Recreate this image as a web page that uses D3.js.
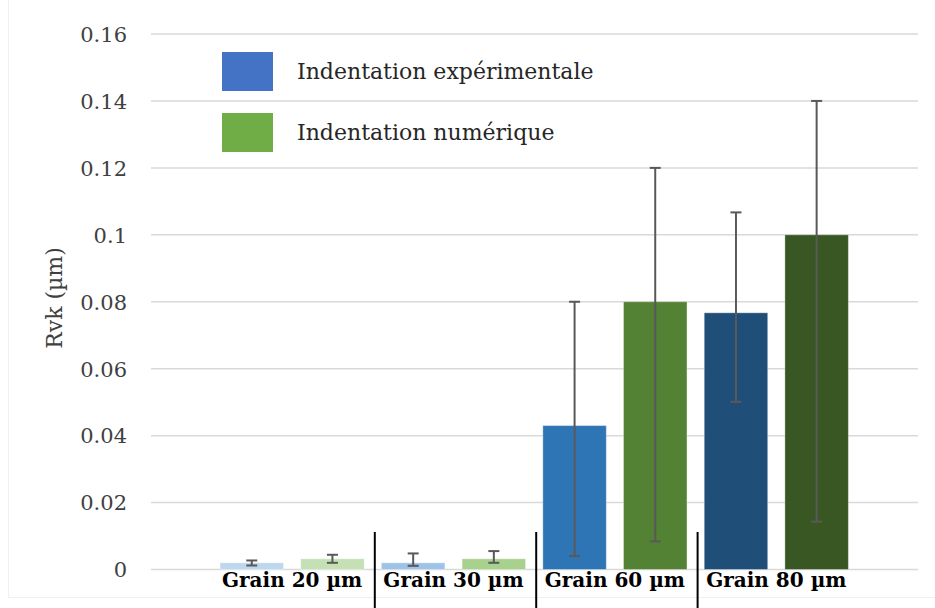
<!DOCTYPE html>
<html><head><meta charset="utf-8">
<script src="https://cdn.jsdelivr.net/npm/d3@7"></script>
<style>body{margin:0;background:#fff;} svg{display:block;}</style>
</head><body>
<svg id="c" width="935" height="608"></svg>
<script>
const categories = ["Grain 20 µm", "Grain 30 µm", "Grain 60 µm", "Grain 80 µm"];
const seriesNames = ["Indentation expérimentale", "Indentation numérique"];
const expValues = [0.002, 0.002, 0.043, 0.0767];
const numValues = [0.0032, 0.0032, 0.08, 0.1];
const expErrPlus = [0.0007, 0.0028, 0.037, 0.030];
const expErrMinus = [0.0008, 0.0009, 0.039, 0.0266];
const numErrPlus = [0.0012, 0.0023, 0.040, 0.040];
const numErrMinus = [0.0012, 0.0012, 0.0716, 0.0857];
const expColors = ["#BDD7EE", "#9DC3E6", "#2E75B6", "#1F4E79"];
const numColors = ["#C5E0B4", "#A9D18E", "#548235", "#385723"];
const legendColors = ["#4472C4", "#70AD47"];
const yTicks = [0, 0.02, 0.04, 0.06, 0.08, 0.1, 0.12, 0.14, 0.16];

const svg = d3.select("#c");
const serif = "'DejaVu Serif', serif";

const y = d3.scaleLinear().domain([0, 0.16]).range([569.5, 34]);
const x0 = d3.scaleBand().domain(categories).range([211.4, 857]).padding(0);
const x1 = d3.scaleBand().domain(seriesNames).range([0, x0.bandwidth()]).paddingInner(0.213).paddingOuter(0.107);

// faint chart border
svg.append("rect").attr("x", 8.5).attr("y", -2).attr("width", 940).attr("height", 599.5)
  .attr("fill", "none").attr("stroke", "#f0f0f0").attr("stroke-width", 1);

// gridlines
svg.append("g").selectAll("line").data(yTicks).join("line")
  .attr("x1", 151).attr("x2", 918)
  .attr("y1", d => y(d)).attr("y2", d => y(d))
  .attr("stroke", "#d9d9d9").attr("stroke-width", 1.5);

// y axis labels
const yAxis = d3.axisLeft(y).tickValues(yTicks).tickSize(0).tickPadding(0)
  .tickFormat(d => d === 0 ? "0" : String(+d.toFixed(2)));
const gy = svg.append("g").attr("transform", "translate(127,0)").call(yAxis);
gy.select(".domain").remove();
gy.selectAll("text").attr("font-family", serif).attr("font-size", 21).attr("fill", "#404040").attr("dy", "0.35em");

// y label
svg.append("text").attr("transform", "translate(62,298) rotate(-90)")
  .attr("text-anchor", "middle").attr("font-family", serif).attr("font-size", 22).attr("fill", "#404040")
  .text("Rvk (µm)");

// bars
const data = categories.map((c, i) => ({c, i}));
const groups = svg.append("g").selectAll("g").data(data).join("g")
  .attr("transform", d => `translate(${x0(d.c)},0)`);

const rows = d => [
  {s: seriesNames[0], v: expValues[d.i], p: expErrPlus[d.i], m: expErrMinus[d.i], col: expColors[d.i]},
  {s: seriesNames[1], v: numValues[d.i], p: numErrPlus[d.i], m: numErrMinus[d.i], col: numColors[d.i]}
];

groups.selectAll("rect").data(rows).join("rect")
  .attr("x", r => x1(r.s)).attr("width", x1.bandwidth())
  .attr("y", r => y(r.v)).attr("height", r => y(0) - y(r.v))
  .attr("fill", r => r.col).attr("stroke", "rgba(255,255,255,0.35)").attr("stroke-width", 1);

// error bars
const eb = groups.selectAll("g.err").data(rows).join("g").attr("class", "err");
eb.append("line")
  .attr("x1", r => x1(r.s) + x1.bandwidth() / 2).attr("x2", r => x1(r.s) + x1.bandwidth() / 2)
  .attr("y1", r => y(r.v + r.p)).attr("y2", r => y(r.v - r.m))
  .attr("stroke", "#595959").attr("stroke-width", 2);
["p", "m"].forEach(k => {
  eb.append("line")
    .attr("x1", r => x1(r.s) + x1.bandwidth() / 2 - 5.5).attr("x2", r => x1(r.s) + x1.bandwidth() / 2 + 5.5)
    .attr("y1", r => y(k === "p" ? r.v + r.p : r.v - r.m)).attr("y2", r => y(k === "p" ? r.v + r.p : r.v - r.m))
    .attr("stroke", "#595959").attr("stroke-width", 2);
});

// category separators
svg.append("g").selectAll("line").data(categories.slice(1)).join("line")
  .attr("x1", d => x0(d) + 2).attr("x2", d => x0(d) + 2)
  .attr("y1", 532).attr("y2", 608)
  .attr("stroke", "#000").attr("stroke-width", 2);

// category labels
svg.append("g").selectAll("text").data(categories).join("text")
  .attr("x", d => x0(d) + x0.bandwidth() / 2).attr("y", 587)
  .attr("text-anchor", "middle").attr("font-family", serif).attr("font-weight", "bold")
  .attr("font-size", 20).attr("fill", "#000").text(d => d);

// legend
const lg = svg.append("g").selectAll("g").data(seriesNames).join("g")
  .attr("transform", (d, i) => `translate(222,${52 + i * 61})`);
lg.append("rect").attr("width", 51).attr("height", 39).attr("fill", (d, i) => legendColors[i]);
lg.append("text").attr("x", 75).attr("y", 19).attr("dy", "0.35em")
  .attr("font-family", serif).attr("font-size", 22).attr("fill", "#262626").text(d => d);
</script>
</body></html>
